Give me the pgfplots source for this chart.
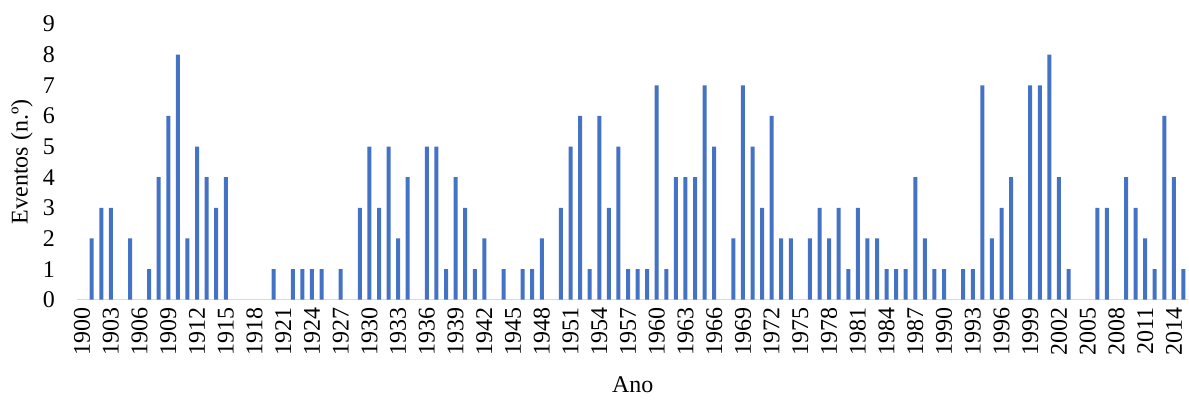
\documentclass[border=0pt]{standalone}
\usepackage{pgfplots}
\pgfplotsset{compat=1.18}
\usepackage{fontspec}
\setmainfont{Liberation Serif}

\definecolor{barblue}{HTML}{4472C4}
\definecolor{axisgray}{HTML}{D9D9D9}

% anos sem eventos ficam de fora (valor 0)
\begin{document}
\begin{tikzpicture}
\begin{axis}[
    name=ax,
    scale only axis,
    width=555.9pt, height=138pt,
    xmin=1899.5, xmax=2015.5,
    ymin=0, ymax=9,
    ybar, bar width=2pt,
    xtick={1900,1903,...,2014},
    ytick={0,1,...,9},
    axis x line*=bottom,
    axis y line*=left,
    x axis line style={draw=axisgray, line width=0.75pt},
    y axis line style={draw=none},
    major tick length=0pt,
    xtick style={draw=none}, ytick style={draw=none},
    /pgf/number format/assume math mode=true,
    /pgf/number format/1000 sep={},
    tick label style={font=\fontsize{12}{14}\selectfont},
    label style={font=\fontsize{12}{14}\selectfont},
    xticklabel style={rotate=90, anchor=east, inner sep=0pt},
    xticklabel shift=3.5pt,
    yticklabel style={anchor=east, inner sep=0pt, xshift=-11pt},
    xlabel={Ano},
    ylabel={Eventos (n.º)},
    xlabel style={at={(axis description cs:0.5,0)}, anchor=center, yshift=-42.5pt},
    ylabel style={at={([xshift=-27.7pt]axis description cs:0,0.5)}, anchor=center},
]
\addplot[fill=barblue, draw=none] coordinates {
    (1901,2) (1902,3) (1903,3) (1905,2) (1907,1) (1908,4) (1909,6) (1910,8)
    (1911,2) (1912,5) (1913,4) (1914,3) (1915,4)
    (1920,1) (1922,1) (1923,1) (1924,1) (1925,1) (1927,1) (1929,3)
    (1930,5) (1931,3) (1932,5) (1933,2) (1934,4) (1936,5) (1937,5) (1938,1)
    (1939,4) (1940,3) (1941,1) (1942,2) (1944,1) (1946,1) (1947,1) (1948,2)
    (1950,3) (1951,5) (1952,6) (1953,1) (1954,6) (1955,3) (1956,5) (1957,1)
    (1958,1) (1959,1) (1960,7) (1961,1) (1962,4) (1963,4) (1964,4) (1965,7)
    (1966,5) (1968,2) (1969,7) (1970,5) (1971,3) (1972,6) (1973,2) (1974,2)
    (1976,2) (1977,3) (1978,2) (1979,3) (1980,1) (1981,3) (1982,2) (1983,2)
    (1984,1) (1985,1) (1986,1) (1987,4) (1988,2) (1989,1) (1990,1)
    (1992,1) (1993,1) (1994,7) (1995,2) (1996,3) (1997,4) (1999,7) (2000,7)
    (2001,8) (2002,4) (2003,1) (2006,3) (2007,3) (2009,4) (2010,3) (2011,2)
    (2012,1) (2013,6) (2014,4) (2015,1)
};
\coordinate (ll) at (rel axis cs:0,0);
\coordinate (ur) at (rel axis cs:1,1);
\end{axis}
\useasboundingbox ([xshift=-38.7pt,yshift=-48.5pt]ll) rectangle ([yshift=12pt]ur);
\end{tikzpicture}
\end{document}
